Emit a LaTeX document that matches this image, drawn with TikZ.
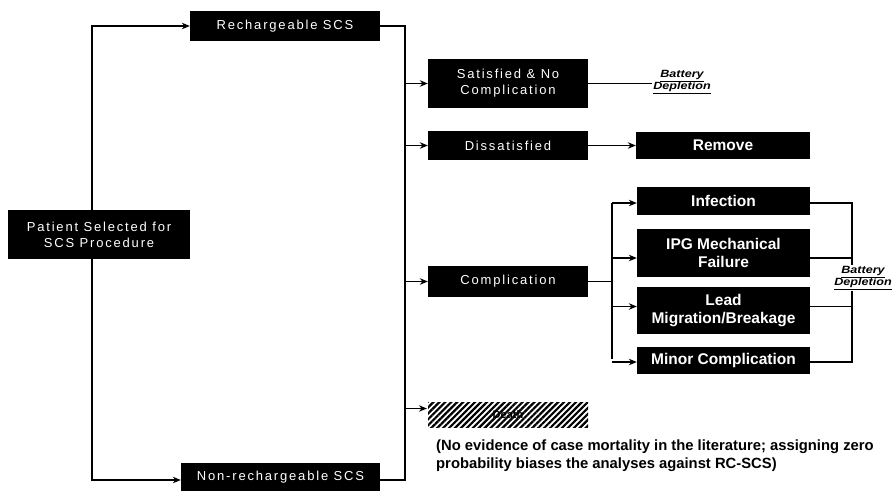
\documentclass[tikz,border=0pt]{standalone}
\usepackage{fontspec}
\setmainfont{Liberation Sans}
\usetikzlibrary{arrows.meta,patterns.meta}
\begin{document}
\begin{tikzpicture}[x=1pt,y=-1pt,
  box/.style={fill=black,text=white,inner sep=0pt,align=center},
  thinbox/.style={box,font=\fontsize{13}{16}\selectfont\addfontfeature{LetterSpace=14}},
  boldbox/.style={box,font=\fontsize{15.5}{18}\selectfont\bfseries},
  conn/.style={line width=1.1pt,black},
  arr/.style={conn,-{Stealth[length=8pt,width=6.5pt]}},
  batt/.style={font=\fontsize{10.5}{12}\selectfont\bfseries\itshape\addfontfeature{FakeStretch=1.2},align=center,inner sep=1pt}]
\useasboundingbox (0,0) rectangle (894,491);
% level 0 / 1
\node[thinbox,minimum width=182,minimum height=49] (pat) at (99,234.5) {Patient Selected for\\SCS Procedure};
\node[thinbox,minimum width=190,minimum height=30] (rech) at (285,26) {Rechargeable SCS};
\node[thinbox,minimum width=199,minimum height=28] (nrech) at (280.5,477) {Non-rechargeable SCS};
% level 2
\node[thinbox,minimum width=160,minimum height=49] (sat) at (508,83.5) {Satisfied \& No\\Complication};
\node[thinbox,minimum width=160,minimum height=29] (dis) at (508,145.5) {Dissatisfied};
\node[thinbox,minimum width=160,minimum height=31] (comp) at (508,281.5) {Complication};
\node[minimum width=160,minimum height=25,inner sep=0pt,
      pattern={Lines[angle=45,distance=4.2pt,line width=2.2pt]},
      font=\fontsize{11}{13}\selectfont\bfseries] (death) at (508,414.5) {Death};
% level 3
\node[boldbox,minimum width=174,minimum height=27] (rem) at (723,145.5) {Remove};
\node[boldbox,minimum width=173,minimum height=28] (inf) at (723.5,201) {Infection};
\node[boldbox,minimum width=173,minimum height=48] (ipg) at (723.5,253) {IPG Mechanical\\Failure};
\node[boldbox,minimum width=173,minimum height=47] (lead) at (723.5,310.5) {Lead\\Migration/Breakage};
\node[boldbox,minimum width=173,minimum height=27] (minor) at (723.5,360.5) {Minor Complication};
% battery depletion labels
\node[batt] (bd1) at (682,82) {\underline{Battery}\\\underline{Depletion}};
% coordinates for the vertical trunks
\coordinate (lx) at (92,0);
\coordinate (vx) at (405,0);
\coordinate (cx) at (612,0);
\coordinate (rx) at (852,0);
% left trunk
\draw[arr] (pat.north -| lx) |- (rech.west);
\draw[arr] (pat.south -| lx) |- ([yshift=-3pt]nrech.west);
% second trunk
\draw[conn] (rech.east) -- (rech.east -| vx) -- ([yshift=-3pt]nrech.east -| vx) -- ([yshift=-3pt]nrech.east);
\draw[arr] (sat.west -| vx) -- (sat.west);
\draw[arr] (dis.west -| vx) -- (dis.west);
\draw[arr] (comp.west -| vx) -- (comp.west);
\draw[arr] ([yshift=6pt]death.west -| vx) -- ([yshift=6pt]death.west);
% satisfied / dissatisfied
\draw[conn] (sat.east) -- (bd1.west |- sat.east);
\draw[arr] (dis.east) -- (rem.west);
% complication trunk
\draw[conn] (comp.east) -- (comp.east -| cx);
\draw[conn] ([yshift=-2pt]inf.west -| cx) -- ([yshift=2pt]minor.west -| cx);
\draw[arr] ([yshift=-2pt]inf.west -| cx) -- ([yshift=-2pt]inf.west);
\draw[arr] ([yshift=-5pt]ipg.west -| cx) -- ([yshift=-5pt]ipg.west);
\draw[arr] ([yshift=4pt]lead.west -| cx) -- ([yshift=4pt]lead.west);
\draw[arr] ([yshift=-1.5pt]minor.west -| cx) -- ([yshift=-1.5pt]minor.west);
% right side to battery depletion
\draw[conn] ([yshift=-2pt]inf.east) -- ([yshift=-2pt]inf.east -| rx) -- ([yshift=-1.5pt]minor.east -| rx) -- ([yshift=-1.5pt]minor.east);
\draw[conn] ([yshift=-5pt]ipg.east) -- ([yshift=-5pt]ipg.east -| rx);
\draw[conn] ([yshift=4pt]lead.east) -- ([yshift=4pt]lead.east -| rx);
\node[batt,fill=white] (bd2) at (863,278) {\underline{Battery}\\\underline{Depletion}};
% note
\node[anchor=base west,align=left,inner sep=0pt,
      font=\fontsize{14.8}{18}\selectfont\bfseries] (note) at (436,468)
  {(No evidence of case mortality in the literature; assigning zero\\probability biases the analyses against RC-SCS)};
\end{tikzpicture}
\end{document}
